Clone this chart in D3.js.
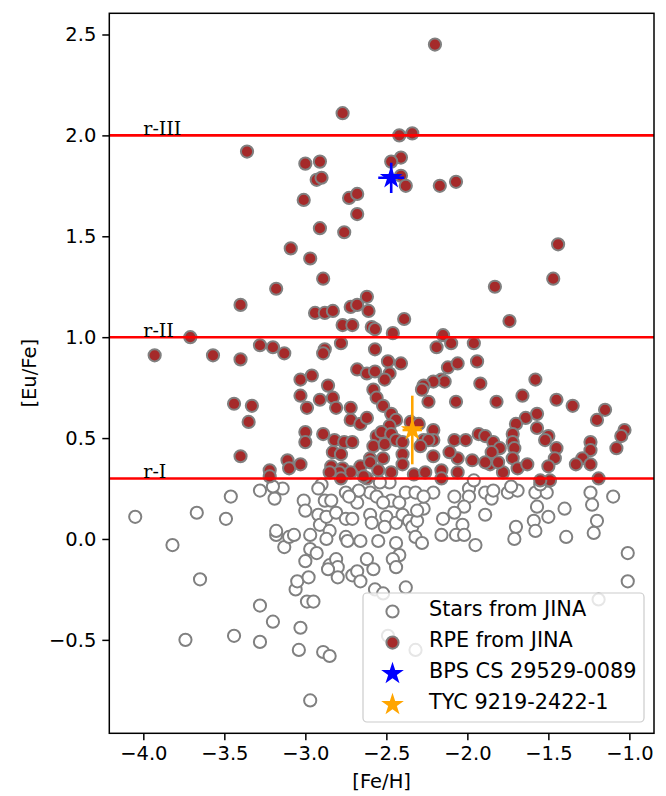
<!DOCTYPE html>
<html>
<head>
<meta charset="utf-8">
<script src="https://cdn.jsdelivr.net/npm/d3@7"></script>
<style>
  html, body { margin: 0; padding: 0; background: #ffffff; }
  svg { display: block; }
  text { font-family: "DejaVu Sans", sans-serif; fill: #000; }
</style>
</head>
<body>
<svg id="chart" width="666" height="796"></svg>
<script>
// ---- data: [Fe/H], [Eu/Fe] ----
const jinaStars = [
  [-4.05,0.11],[-3.67,0.13],[-3.46,0.21],[-3.49,0.10],[-3.82,-0.03],[-3.65,-0.20],[-3.74,-0.50],[-3.44,-0.48],
  [-3.28,-0.51],[-3.28,-0.33],[-3.20,-0.41],[-3.03,-0.44],[-3.04,-0.55],[-2.89,-0.56],[-2.85,-0.58],[-2.97,-0.80],
  [-2.99,-0.31],[-2.95,-0.31],[-3.06,-0.25],[-3.05,-0.21],[-2.98,-0.19],[-3.00,-0.11],[-2.97,-0.05],[-2.93,-0.07],
  [-2.97,0.02],[-3.13,-0.04],[-3.18,0.02],[-3.10,0.01],[-3.07,0.02],[-3.18,0.04],[-3.28,0.24],[-3.19,0.20],
  [-3.14,0.25],[-3.20,0.26],[-3.01,0.19],[-3.00,0.14],[-2.92,0.12],[-2.88,0.19],[-2.84,0.19],[-2.90,0.27],
  [-2.92,0.25],[-2.91,0.07],[-2.85,0.04],[-2.87,0.00],[-2.87,0.11],[-2.81,0.13],[-2.75,0.10],[-2.71,0.10],
  [-2.75,0.23],[-2.68,0.18],[-2.75,0.01],[-2.74,-0.01],[-2.66,-0.01],[-2.85,-0.13],[-2.81,-0.10],[-2.80,-0.14],
  [-2.86,-0.15],[-2.80,-0.19],[-2.71,-0.18],[-2.68,-0.16],[-2.66,-0.21],[-2.62,-0.10],[-2.58,-0.15],[-2.55,-0.01],
  [-2.44,-0.02],[-2.42,-0.08],[-2.46,-0.10],[-2.44,-0.14],[-2.57,-0.25],[-2.52,-0.27],[-2.38,-0.24],[-2.60,0.12],
  [-2.59,0.08],[-2.50,0.11],[-2.51,0.06],[-2.44,0.08],[-2.40,0.12],[-2.36,0.09],[-2.34,0.06],[-2.31,0.09],
  [-2.27,0.15],[-2.32,0.01],[-2.28,-0.02],[-2.21,0.23],[-2.60,0.23],[-2.47,0.19],[-2.42,0.18],[-2.38,0.23],
  [-2.32,0.23],[-2.48,0.28],[-2.56,0.21],[-2.67,0.24],[-2.73,0.21],[-2.54,0.28],[-2.52,0.18],[-2.27,0.21],
  [-2.31,0.14],[-2.08,0.21],[-1.99,0.25],[-1.99,0.21],[-2.02,0.16],[-2.08,0.13],[-2.15,0.10],[-2.03,0.07],
  [-2.16,0.02],[-2.07,0.02],[-2.02,0.02],[-1.95,-0.03],[-1.89,0.12],[-1.89,0.23],[-1.85,0.20],[-1.84,0.24],
  [-1.75,0.23],[-1.69,0.24],[-1.73,0.26],[-1.70,0.06],[-1.71,0.00],[-1.58,0.23],[-1.51,0.23],[-1.55,0.27],
  [-1.57,0.16],[-1.59,0.09],[-1.58,0.04],[-1.50,0.11],[-1.40,0.15],[-1.39,0.01],[-1.24,0.23],[-1.23,0.17],
  [-1.20,0.09],[-1.22,0.03],[-1.10,0.21],[-1.01,-0.07],[-1.01,-0.21],[-1.19,-0.30],[-1.96,0.29],[-2.32,-0.55],
  [-2.49,-0.48]
];

const rpeStars = [
  [-2.20,2.45],[-2.77,2.11],[-2.42,2.00],[-2.34,2.01],[-3.36,1.92],[-3.00,1.86],[-2.91,1.87],[-2.93,1.78],
  [-2.90,1.79],[-2.41,1.89],[-2.47,1.87],[-2.41,1.80],[-2.38,1.75],[-2.17,1.75],[-2.07,1.77],[-3.01,1.68],
  [-2.73,1.69],[-2.68,1.71],[-2.68,1.61],[-2.91,1.54],[-2.76,1.52],[-3.09,1.44],[-2.97,1.39],[-2.89,1.29],
  [-3.18,1.24],[-3.40,1.16],[-2.94,1.12],[-2.88,1.12],[-2.83,1.13],[-2.72,1.15],[-2.68,1.16],[-2.62,1.20],
  [-2.61,1.13],[-2.77,1.06],[-2.71,1.06],[-2.59,1.05],[-2.57,1.04],[-2.46,1.02],[-2.39,1.09],[-2.15,1.01],
  [-1.44,1.46],[-1.47,1.29],[-1.83,1.25],[-1.74,1.08],[-3.71,1.00],[-3.93,0.91],[-3.57,0.91],[-3.40,0.89],
  [-3.28,0.96],[-3.20,0.95],[-3.13,0.92],[-2.88,0.94],[-2.89,0.92],[-2.78,0.97],[-2.57,0.94],[-2.68,0.84],
  [-2.62,0.82],[-2.57,0.83],[-2.49,0.88],[-2.41,0.87],[-2.48,0.82],[-2.51,0.79],[-2.19,0.95],[-2.10,0.97],
  [-1.96,0.97],[-2.12,0.85],[-2.06,0.87],[-1.94,0.88],[-2.16,0.79],[-2.14,0.78],[-1.92,0.77],[-1.58,0.79],
  [-2.21,0.78],[-2.27,0.76],[-2.28,0.74],[-2.24,0.68],[-2.07,0.68],[-1.82,0.68],[-1.66,0.71],[-1.45,0.69],
  [-1.35,0.66],[-1.15,0.64],[-1.20,0.59],[-1.57,0.62],[-1.64,0.60],[-1.70,0.57],[-2.21,0.54],[-1.72,0.52],
  [-1.57,0.55],[-1.50,0.51],[-1.52,0.49],[-1.45,0.45],[-1.46,0.40],[-1.50,0.36],[-1.49,0.29],[-1.55,0.29],
  [-1.03,0.54],[-1.05,0.51],[-1.08,0.45],[-1.24,0.48],[-1.24,0.44],[-1.29,0.40],[-1.33,0.37],[-1.24,0.37],
  [-1.19,0.30],[-2.08,0.49],[-2.01,0.49],[-1.93,0.52],[-1.89,0.51],[-1.84,0.48],[-1.80,0.45],[-1.85,0.43],
  [-1.72,0.48],[-1.71,0.45],[-1.72,0.40],[-1.69,0.35],[-1.63,0.37],[-1.78,0.33],[-1.86,0.37],[-1.89,0.38],
  [-1.81,0.38],[-1.97,0.39],[-2.06,0.40],[-2.11,0.43],[-2.21,0.41],[-2.16,0.34],[-2.06,0.33],[-2.16,0.30],
  [-2.21,0.49],[-3.03,0.79],[-2.96,0.81],[-2.86,0.76],[-3.03,0.71],[-2.91,0.69],[-2.83,0.70],[-2.99,0.65],
  [-2.81,0.65],[-2.72,0.65],[-2.58,0.74],[-2.56,0.70],[-2.52,0.66],[-2.47,0.62],[-2.72,0.59],[-2.66,0.57],
  [-2.62,0.60],[-2.44,0.59],[-2.48,0.56],[-2.35,0.58],[-2.30,0.57],[-3.00,0.53],[-3.00,0.48],[-2.89,0.52],
  [-2.82,0.49],[-2.76,0.48],[-2.71,0.48],[-2.56,0.51],[-2.50,0.50],[-2.53,0.53],[-2.47,0.52],[-2.58,0.46],
  [-2.51,0.47],[-2.44,0.49],[-2.40,0.48],[-2.27,0.49],[-2.24,0.49],[-2.29,0.46],[-2.83,0.43],[-2.78,0.42],
  [-2.60,0.40],[-2.52,0.40],[-2.40,0.42],[-2.40,0.37],[-3.11,0.39],[-3.10,0.35],[-3.03,0.37],[-2.84,0.36],
  [-2.77,0.35],[-2.66,0.36],[-2.60,0.38],[-3.22,0.34],[-3.22,0.31],[-2.33,0.32],[-2.26,0.33],[-2.55,0.34],
  [-2.47,0.33],[-2.72,0.33],[-2.79,0.33],[-2.85,0.33],[-3.44,0.67],[-3.33,0.66],[-3.35,0.58],[-3.40,0.41],
  [-2.78,0.30],[-2.62,0.30],[-2.64,0.31]
];

// program stars: name, [Fe/H], [Eu/Fe], errors, colour
const targetNames = ["BPS CS 29529-0089", "TYC 9219-2422-1"];
const targetFe    = [-2.47, -2.34];
const targetEu    = [1.79, 0.54];
const targetFeErr = [0.08, 0.06];
const targetEuErr = [0.075, 0.17];
const targetColors = ["#0000ff", "#ffa500"];

// r-process classes
const rClassLabels = ["r-I", "r-II", "r-III"];
const rClassLevels = [0.3, 1.0, 2.0];

const xTicks = [-4.0, -3.5, -3.0, -2.5, -2.0, -1.5, -1.0];
const yTicks = [-0.5, 0.0, 0.5, 1.0, 1.5, 2.0, 2.5];

const legendLabels = ["Stars from JINA", "RPE from JINA", targetNames[0], targetNames[1]];

// ---- layout ----
const plot = { left: 109.3, right: 654, top: 13.3, bottom: 733.3 };
const FONT = 19.5;
const LEGEND_FONT = 20.8;

const svg = d3.select("#chart");
const x = d3.scaleLinear().domain([-4.21, -0.848]).range([plot.left, plot.right]);
const y = d3.scaleLinear().domain([-0.963, 2.605]).range([plot.bottom, plot.top]);

const fmt = d3.format(".1f");

// clip for data
svg.append("defs").append("clipPath").attr("id", "plotclip")
  .append("rect").attr("x", plot.left).attr("y", plot.top)
  .attr("width", plot.right - plot.left).attr("height", plot.bottom - plot.top);

const data = svg.append("g").attr("clip-path", "url(#plotclip)");

const R = 6.1;
const EDGE = 2;
// all JINA stars: open grey circles
data.append("g").selectAll("circle").data(jinaStars).join("circle")
  .attr("cx", d => x(d[0])).attr("cy", d => y(d[1])).attr("r", R)
  .attr("fill", "#ffffff").attr("stroke", "#808080").attr("stroke-width", EDGE);

// r-process-enhanced stars
data.append("g").selectAll("circle").data(rpeStars).join("circle")
  .attr("cx", d => x(d[0])).attr("cy", d => y(d[1])).attr("r", R)
  .attr("fill", "#a52a2a").attr("stroke", "#808080").attr("stroke-width", EDGE);

// program stars with error bars
const starSize = 160;
const starPath = d3.symbol().type(d3.symbolStar).size(starSize);
targetNames.forEach((name, i) => {
  const g = data.append("g");
  const cx = x(targetFe[i]), cy = y(targetEu[i]);
  g.append("line")
    .attr("x1", cx).attr("x2", cx)
    .attr("y1", y(targetEu[i] - targetEuErr[i])).attr("y2", y(targetEu[i] + targetEuErr[i]))
    .attr("stroke", targetColors[i]).attr("stroke-width", 2.6);
  g.append("line")
    .attr("x1", x(targetFe[i] - targetFeErr[i])).attr("x2", x(targetFe[i] + targetFeErr[i]))
    .attr("y1", cy).attr("y2", cy)
    .attr("stroke", targetColors[i]).attr("stroke-width", 2.6);
  g.append("path").attr("d", starPath)
    .attr("transform", `translate(${cx},${cy})`)
    .attr("fill", targetColors[i]);
});

// class thresholds
rClassLevels.forEach((lvl, i) => {
  data.append("line")
    .attr("x1", plot.left).attr("x2", plot.right)
    .attr("y1", y(lvl)).attr("y2", y(lvl))
    .attr("stroke", "#ff0000").attr("stroke-width", 2.6);
  data.append("text")
    .attr("x", x(-4.0)).attr("y", y(lvl))
    .style("font-family", "'DejaVu Serif', serif")
    .style("font-size", "19px")
    .text(rClassLabels[i]);
});

// ---- axes ----
const xAxis = d3.axisBottom(x).tickValues(xTicks).tickFormat(fmt)
  .tickSizeInner(7).tickSizeOuter(0).tickPadding(6);
const yAxis = d3.axisLeft(y).tickValues(yTicks).tickFormat(fmt)
  .tickSizeInner(7).tickSizeOuter(0).tickPadding(6);

const gx = svg.append("g").attr("transform", `translate(0,${plot.bottom})`).call(xAxis);
const gy = svg.append("g").attr("transform", `translate(${plot.left},0)`).call(yAxis);
[gx, gy].forEach(g => {
  g.select(".domain").remove();
  g.selectAll(".tick line").attr("stroke", "#000").attr("stroke-width", 1.5);
  g.selectAll(".tick text").attr("fill", "#000")
    .style("font-family", "'DejaVu Sans', sans-serif").style("font-size", FONT + "px");
});

// frame
svg.append("rect")
  .attr("x", plot.left).attr("y", plot.top)
  .attr("width", plot.right - plot.left).attr("height", plot.bottom - plot.top)
  .attr("fill", "none").attr("stroke", "#000").attr("stroke-width", 1.5);

// axis titles
svg.append("text")
  .attr("x", (plot.left + plot.right) / 2).attr("y", 788)
  .attr("text-anchor", "middle").style("font-size", FONT + "px")
  .text("[Fe/H]");
svg.append("text")
  .attr("transform", `translate(36,${(plot.top + plot.bottom) / 2}) rotate(-90)`)
  .attr("text-anchor", "middle").style("font-size", FONT + "px")
  .text("[Eu/Fe]");

// ---- legend ----
const leg = svg.append("g");
leg.append("rect")
  .attr("x", 363).attr("y", 593).attr("width", 281).attr("height", 129).attr("rx", 4)
  .attr("fill", "#ffffff").attr("fill-opacity", 0.8)
  .attr("stroke", "#cccccc").attr("stroke-width", 1.2);

const rowY = d3.scaleLinear().domain([0, 3]).range([608.5, 701.7]);
const mx = 392.5;
legendLabels.forEach((label, i) => {
  const ty = rowY(i);
  const my = ty + 3;
  if (i === 0) {
    leg.append("circle").attr("cx", mx).attr("cy", my).attr("r", R)
      .attr("fill", "#ffffff").attr("stroke", "#808080").attr("stroke-width", EDGE);
  } else if (i === 1) {
    leg.append("circle").attr("cx", mx).attr("cy", my).attr("r", R)
      .attr("fill", "#a52a2a").attr("stroke", "#808080").attr("stroke-width", EDGE);
  } else {
    leg.append("path").attr("d", starPath)
      .attr("transform", `translate(${mx},${my})`)
      .attr("fill", targetColors[i - 2]);
  }
  leg.append("text")
    .attr("x", 429).attr("y", ty).attr("dy", "0.35em")
    .style("font-size", LEGEND_FONT + "px")
    .text(label);
});
</script>
</body>
</html>
